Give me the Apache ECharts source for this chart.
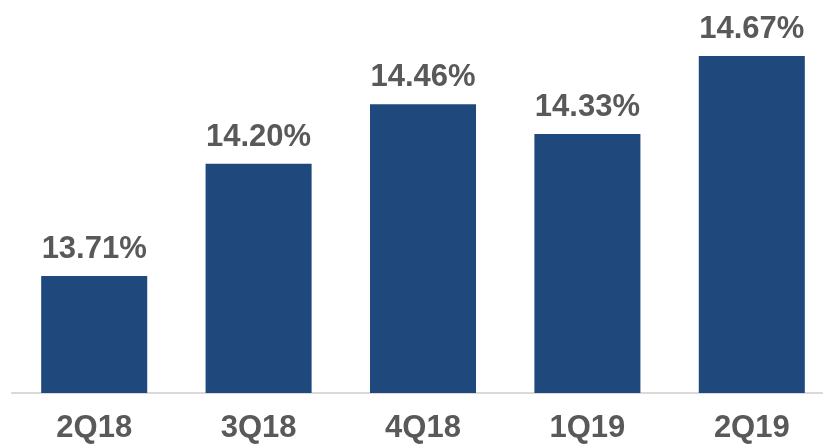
<!DOCTYPE html>
<html lang="en">
<head>
    <meta charset="UTF-8">
    <title>Quarterly ratio</title>
    <script type="text/javascript" src="https://cdn.jsdelivr.net/npm/echarts@6/dist/echarts.min.js"></script>
    <style>
        html, body { margin: 0; padding: 0; background: #fff; overflow: hidden; }
        /* the plot runs a little past the right edge of the window, as in the original */
        #chart { width: 834px; height: 446px; }
    </style>
</head>
<body>
<div id="chart"></div>
<script>
    var quarters = ['2Q18', '3Q18', '4Q18', '1Q19', '2Q19'];
    var ratios = [13.71, 14.20, 14.46, 14.33, 14.67];

    var myChart = echarts.init(document.getElementById('chart'));
    var option = {
        backgroundColor: '#fff',
        animation: false,
        grid: {
            left: 12,
            right: 0,
            top: 56,
            bottom: 53
        },
        xAxis: {
            type: 'category',
            data: quarters,
            axisTick: { show: false },
            axisLine: {
                show: true,
                lineStyle: { color: '#d9d9d9', width: 2 }
            },
            axisLabel: {
                color: '#595959',
                fontFamily: 'Liberation Sans, Arial, sans-serif',
                fontWeight: 'bold',
                fontSize: 31,
                margin: 20
            }
        },
        yAxis: {
            type: 'value',
            min: 13.2,
            max: 14.67,
            show: false,
            splitLine: { show: false }
        },
        series: [{
            type: 'bar',
            data: ratios,
            barWidth: '64.5%',
            itemStyle: { color: '#1f497d' },
            label: {
                show: true,
                position: 'top',
                distance: 11,
                color: '#595959',
                fontFamily: 'Liberation Sans, Arial, sans-serif',
                fontWeight: 'bold',
                fontSize: 31,
                formatter: function (p) { return p.value.toFixed(2) + '%'; }
            }
        }]
    };
    myChart.setOption(option);
</script>
</body>
</html>
